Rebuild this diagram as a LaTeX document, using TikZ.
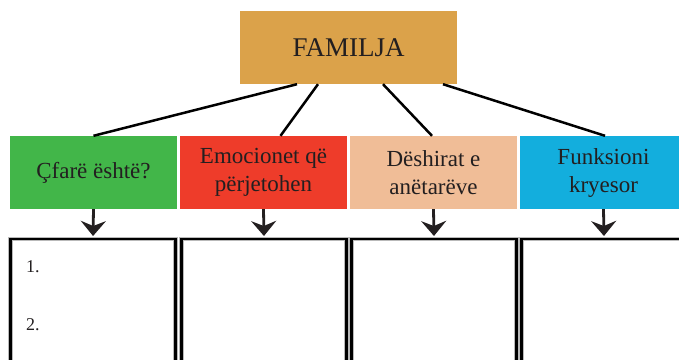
\documentclass[tikz,border=0pt]{standalone}
\usepackage{fontspec}
\setmainfont{Liberation Serif}
\usepackage{xcolor}
\usetikzlibrary{arrows.meta, positioning, calc}

\definecolor{famgold}{HTML}{DBA24A}
\definecolor{catgreen}{HTML}{42B649}
\definecolor{catred}{HTML}{EE3C2A}
\definecolor{catpeach}{HTML}{F0BD97}
\definecolor{catblue}{HTML}{13AEDD}
\definecolor{inkgray}{HTML}{231F20}

\begin{document}
\begin{tikzpicture}[x=1pt, y=-1pt,
    rootbox/.style={rectangle, fill=famgold, minimum width=217pt, minimum height=73pt, text=inkgray, font=\fontsize{27}{30}\selectfont, inner sep=0pt},
    catbox/.style={rectangle, minimum width=167pt, minimum height=73pt, align=center, text=inkgray, font=\fontsize{23}{28}\selectfont, inner sep=0pt},
    answerbox/.style={rectangle, draw=black, line width=2.2pt, minimum width=165pt, minimum height=170pt, anchor=north, inner sep=0pt,
        preaction={draw=gray!55, line width=4.2pt}},
    numtext/.style={anchor=base west, text=inkgray, font=\fontsize{18}{20}\selectfont, inner sep=0pt},
    link/.style={line width=2.5pt, draw=black},
    arrow/.style={-{Stealth[length=15pt, width=25pt, inset=5pt]}, line width=2.8pt, draw=inkgray, shorten >=2pt}
]
\useasboundingbox (0,0) rectangle (679,359);
\clip (0,0) rectangle (679,359);

% Top: family
\node[rootbox] (familja) at (348.5, 47.5) {FAMILJA};

% Middle row: categories
\node[catbox, fill=catgreen] (cat1) at (93.5, 172.5) {Çfarë është?};
\node[catbox, fill=catred] (cat2) at (263.5, 172.5) {Emocionet që\\përjetohen};
\node[catbox, fill=catpeach] (cat3) at (433.5, 172.5) {Dëshirat e\\anëtarëve};
\node[catbox, fill=catblue] (cat4) at (603.5, 172.5) {Funksioni\\kryesor};

% Bottom row: answer boxes
\node[answerbox] (ans1) at (93, 238) {};
\node[answerbox] (ans2) at (264, 238) {};
\node[answerbox] (ans3) at (434, 238) {};
\node[answerbox] (ans4) at (604, 238) {};

\node[numtext] (num1) at (26, 272) {1.};
\node[numtext] (num2) at (26, 330) {2.};

% Links from family to categories
\draw[link] ($(familja.south)+(-51.5,0)$) -- (cat1.north);
\draw[link] ($(familja.south)+(-30.5,0)$) -- ($(cat2.north)+(17,0)$);
\draw[link] ($(familja.south)+(34.5,0)$) -- ($(cat3.north)+(-1.5,0)$);
\draw[link] ($(familja.south)+(94.5,0)$) -- ($(cat4.north)+(1.5,0)$);

% Arrows down to answer boxes
\foreach \i in {1,...,4}
    \draw[arrow] (cat\i.south) -- (ans\i.north);

\end{tikzpicture}
\end{document}
